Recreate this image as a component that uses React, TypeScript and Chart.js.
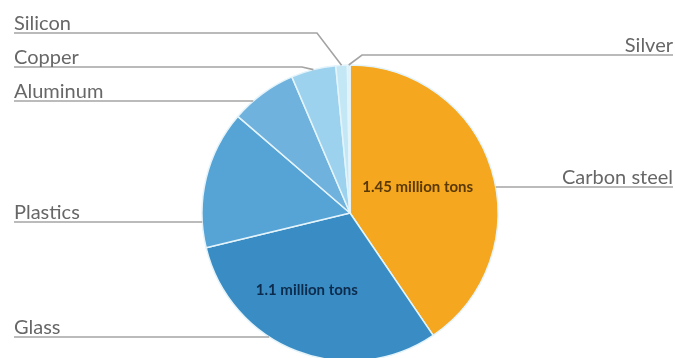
import { useEffect, useRef } from "react";
import { Chart, registerables } from "chart.js";

Chart.register(...registerables);

// ---- data ----
const categories = ["Carbon steel", "Glass", "Plastics", "Aluminum", "Copper", "Silicon", "Silver"];
const valuesMillionTons = [1.45, 1.1, 0.54, 0.26, 0.175, 0.045, 0.01];
const innerLabels = ["1.45 million tons", "1.1 million tons", "", "", "", "", ""];

// ---- styles / layout (not data) ----
const sliceColors = ["#F4A71F", "#3A8DC4", "#56A3D5", "#6FB2DE", "#9DD2EE", "#C4E7F6", "#DDF0F8"];
const innerLabelColors = ["#5a3905", "#0d2b4c", "", "", "", "", ""];
const innerLabelLayout = [
  { frac: 0.49, shiftDeg: -4 },
  { frac: 0.6, shiftDeg: 8 },
  null, null, null, null, null,
];
// leader line layout per category
const labelLayout: { side: "left" | "right"; lineY: number; elbowX?: number }[] = [
  { side: "right", lineY: 187 },
  { side: "left", lineY: 337 },
  { side: "left", lineY: 222 },
  { side: "left", lineY: 101 },
  { side: "left", lineY: 67, elbowX: 302 },
  { side: "left", lineY: 33, elbowX: 317 },
  { side: "right", lineY: 55, elbowX: 362 },
];

const CANVAS_W = 675;
const CANVAS_H = 380;
const LEFT_X = 14;
const RIGHT_X = 673;

const leaderPlugin = {
  id: "leaders",
  afterDatasetsDraw(chart: any) {
    const ctx = chart.ctx as CanvasRenderingContext2D;
    const meta = chart.getDatasetMeta(0);
    ctx.save();
    meta.data.forEach((arc: any, i: number) => {
      const { x, y, startAngle, endAngle, outerRadius } = arc.getProps(
        ["x", "y", "startAngle", "endAngle", "outerRadius"],
        true
      );
      const mid = (startAngle + endAngle) / 2;
      const lay = labelLayout[i];
      // leader line
      ctx.strokeStyle = "#a4a4a4";
      ctx.lineWidth = 1.6;
      ctx.beginPath();
      const textEdge = lay.side === "left" ? LEFT_X : RIGHT_X;
      ctx.moveTo(textEdge, lay.lineY);
      if (lay.elbowX !== undefined) {
        ctx.lineTo(lay.elbowX, lay.lineY);
        ctx.lineTo(x + Math.cos(mid) * outerRadius, y + Math.sin(mid) * outerRadius);
      } else {
        const dy = lay.lineY - y;
        const dx = Math.sqrt(Math.max(outerRadius * outerRadius - dy * dy, 0));
        ctx.lineTo(lay.side === "left" ? x - dx : x + dx, lay.lineY);
      }
      ctx.stroke();
      // label text
      ctx.fillStyle = "#676767";
      ctx.font = "20px Lato";
      ctx.textBaseline = "alphabetic";
      ctx.textAlign = lay.side === "left" ? "left" : "right";
      ctx.fillText(categories[i], textEdge, lay.lineY - 3.5);

      // inner value labels
      const il = innerLabelLayout[i];
      if (il && innerLabels[i]) {
        const a = mid + (il.shiftDeg * Math.PI) / 180;
        const r = outerRadius * il.frac;
        ctx.fillStyle = innerLabelColors[i];
        ctx.font = "bold 15px Lato";
        ctx.textAlign = "center";
        ctx.textBaseline = "middle";
        ctx.fillText(innerLabels[i], x + Math.cos(a) * r, y + Math.sin(a) * r);
      }
    });
    ctx.restore();
  },
};

export default function App() {
  const ref = useRef<HTMLCanvasElement | null>(null);
  useEffect(() => {
    if (!ref.current) return;
    const chart = new Chart(ref.current, {
      type: "pie",
      data: {
        labels: categories,
        datasets: [
          {
            data: valuesMillionTons,
            backgroundColor: sliceColors,
            borderColor: "#e4f4fb",
            borderWidth: 1.5,
          },
        ],
      },
      options: {
        animation: false,
        responsive: false,
        maintainAspectRatio: false,
        devicePixelRatio: 1,
        radius: 148,
        layout: { padding: { left: 195, right: 170, top: 58, bottom: 12 } },
        plugins: { legend: { display: false }, tooltip: { enabled: false } },
        events: [],
      } as any,
      plugins: [leaderPlugin],
    });
    return () => chart.destroy();
  }, []);
  return (
    <div
      style={{
        position: "fixed",
        left: 0,
        top: 0,
        width: CANVAS_W,
        height: 358,
        overflow: "hidden",
        background: "#ffffff",
      }}
    >
      <canvas ref={ref} width={CANVAS_W} height={CANVAS_H} style={{ width: CANVAS_W, height: CANVAS_H, display: "block" }} />
    </div>
  );
}
